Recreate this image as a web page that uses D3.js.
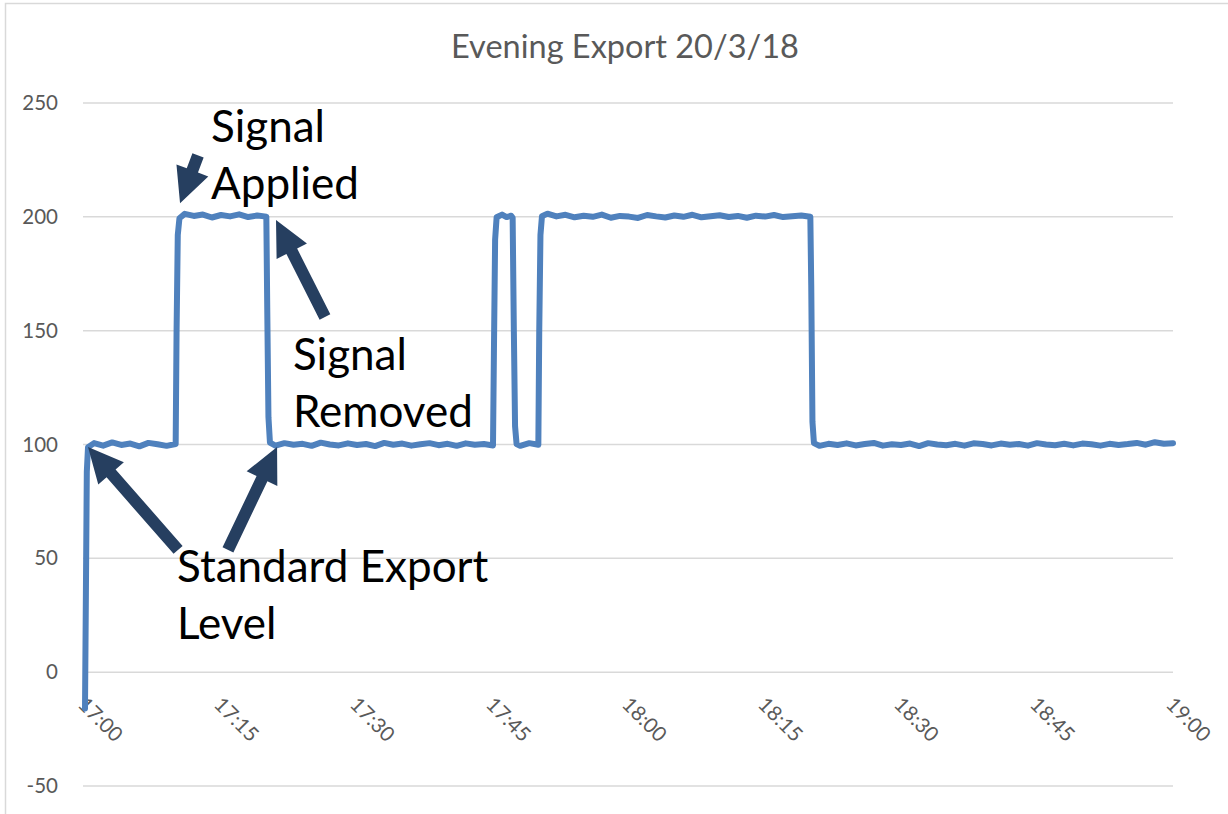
<!DOCTYPE html>
<html>
<head>
<meta charset="utf-8">
<script src="https://cdn.jsdelivr.net/npm/d3@7"></script>
<style>
  body { margin: 0; background: #fff; }
  text { font-family: Lato, "Open Sans", sans-serif; }
</style>
</head>
<body>
<svg id="chart" width="1228" height="814"></svg>
<script>
//// data
var times = [
  "17:00:00","17:00:06","17:00:12","17:00:20","17:01:00","17:02:00","17:03:00","17:04:00","17:05:00",
  "17:06:00","17:07:00","17:08:00","17:09:00",
  "17:10:00","17:10:06","17:10:14","17:10:25","17:11:00","17:12:00","17:13:00","17:14:00","17:15:00",
  "17:16:00","17:17:00","17:18:00","17:19:00",
  "17:20:00","17:20:06","17:20:14","17:20:24","17:21:00","17:22:00","17:23:00","17:24:00","17:25:00",
  "17:26:00","17:27:00","17:28:00","17:29:00","17:30:00","17:31:00","17:32:00","17:33:00","17:34:00",
  "17:35:00","17:36:00","17:37:00","17:38:00","17:39:00","17:40:00","17:41:00","17:42:00","17:43:00",
  "17:44:00",
  "17:45:00","17:45:06","17:45:14","17:45:24","17:46:00","17:46:30","17:47:00",
  "17:47:10","17:47:18","17:47:26","17:47:36","17:48:00","17:49:00",
  "17:50:00","17:50:06","17:50:14","17:50:24","17:51:00","17:52:00","17:53:00","17:54:00","17:55:00",
  "17:56:00","17:57:00","17:58:00","17:59:00","18:00:00","18:01:00","18:02:00","18:03:00","18:04:00",
  "18:05:00","18:06:00","18:07:00","18:08:00","18:09:00","18:10:00","18:11:00","18:12:00","18:13:00",
  "18:14:00","18:15:00","18:16:00","18:17:00","18:18:00","18:19:00",
  "18:20:00","18:20:06","18:20:14","18:20:24","18:21:00","18:22:00","18:23:00","18:24:00","18:25:00",
  "18:26:00","18:27:00","18:28:00","18:29:00","18:30:00","18:31:00","18:32:00","18:33:00","18:34:00",
  "18:35:00","18:36:00","18:37:00","18:38:00","18:39:00","18:40:00","18:41:00","18:42:00","18:43:00",
  "18:44:00","18:45:00","18:46:00","18:47:00","18:48:00","18:49:00","18:50:00","18:51:00","18:52:00",
  "18:53:00","18:54:00","18:55:00","18:56:00","18:57:00","18:58:00","18:59:00","19:00:00"
];
var exportLevel = [
  -16, 35, 88, 98.8, 100.6, 99.5, 100.9, 99.8, 100.4,
  99.2, 100.7, 100.1, 99.4,
  100.2, 150, 192, 199.4, 201.3, 200.4, 201.0, 199.7, 200.8,
  200.2, 201.1, 199.9, 200.6,
  200.1, 160, 112, 100.8, 99.5, 100.6, 99.9, 100.3, 99.4,
  100.8, 100.0, 99.6, 100.5, 99.8, 100.2, 99.3, 100.7, 99.9,
  100.4, 99.5, 100.1, 100.6, 99.7, 100.3, 99.4, 100.5, 99.9,
  100.2,
  99.6, 140, 190, 199.8, 201.0, 199.9, 200.5,
  199.6, 150, 108, 100.2, 99.4, 100.6,
  99.9, 150, 192, 200.3, 201.4, 200.2, 200.9, 199.8, 200.5,
  200.0, 201.0, 199.6, 200.4, 200.1, 199.5, 200.8, 200.2, 199.7,
  200.6, 200.0, 200.9, 199.8, 200.3, 200.7, 199.9, 200.4, 199.6,
  200.5, 200.1, 200.8, 199.9, 200.3, 200.6,
  200.0, 170, 110, 100.6, 99.4, 100.3, 99.8, 100.5, 99.6,
  100.2, 100.7, 99.5, 100.1, 99.8, 100.4, 99.3, 100.6, 100.0,
  99.7, 100.3, 99.5, 100.5, 100.2, 99.6, 100.4, 99.9, 100.2,
  99.5, 100.6, 100.0, 99.7, 100.3, 99.6, 100.4, 100.1, 99.5,
  100.3, 99.8, 100.2, 100.7, 99.9, 101.0, 100.3, 100.6
];
var xTickLabels = ["17:00","17:15","17:30","17:45","18:00","18:15","18:30","18:45","19:00"];
var yTicks = [-50, 0, 50, 100, 150, 200, 250];

// callouts: arrows go tail -> tip, in chart units [time, value]
var arrows = [
  {tail: ["17:12:28", 227], tip: ["17:10:29", 206]},
  {tail: ["17:26:28", 156], tip: ["17:21:04", 198.6]},
  {tail: ["17:10:16", 53.7], tip: ["17:00:20", 98.9]},
  {tail: ["17:15:46", 53.7], tip: ["17:21:11", 98.9]}
];
var notes = [
  {at: ["17:13:54", 232.9], lines: ["Signal", "Applied"]},
  {at: ["17:22:56", 132.7], lines: ["Signal", "Removed"]},
  {at: ["17:10:09", 39.6], lines: ["Standard Export", "Level"]}
];

//// setup
var svg = d3.select("svg#chart"),
    width = +svg.attr("width"),
    height = +svg.attr("height");

var parse = d3.timeParse("%H:%M:%S"),
    parseHM = d3.timeParse("%H:%M");

var data = times.map(function(t, i) { return {time: parse(t), value: exportLevel[i]}; });

var x = d3.scaleTime()
    .domain([parseHM(xTickLabels[0]), parseHM(xTickLabels[xTickLabels.length - 1])])
    .range([85, 1173]);
var y = d3.scaleLinear()
    .domain([-50, 250])
    .range([786, 103]);

// outer chart border
svg.append("rect")
    .attr("x", 5.5).attr("y", 3.5)
    .attr("width", width + 20).attr("height", height + 20)
    .attr("fill", "none")
    .attr("stroke", "#d9d9d9")
    .attr("stroke-width", 1.5);

// title
svg.append("text")
    .attr("x", 625).attr("y", 58)
    .attr("text-anchor", "middle")
    .attr("font-size", 32.5)
    .attr("fill", "#595959")
    .text("Evening Export 20/3/18");

// gridlines
svg.append("g").selectAll("line")
    .data(yTicks)
    .enter().append("line")
    .attr("x1", 83).attr("x2", 1173)
    .attr("y1", function(d) { return y(d); })
    .attr("y2", function(d) { return y(d); })
    .attr("stroke", "#d9d9d9")
    .attr("stroke-width", 1.5);

// y axis (plain hyphen for negatives, as in the source)
var yAxis = svg.append("g")
    .attr("transform", "translate(68,0)")
    .call(d3.axisLeft(y).tickValues(yTicks).tickSize(0).tickPadding(10)
        .tickFormat(function(d) { return String(d); }));
yAxis.select(".domain").remove();
yAxis.selectAll("text")
    .attr("font-size", 20.5)
    .attr("font-family", "Lato, sans-serif")
    .attr("fill", "#595959");

// x axis, labels slanted down to the right
var xAxis = svg.append("g")
    .attr("transform", "translate(0," + y(0) + ")")
    .call(d3.axisBottom(x)
        .tickValues(xTickLabels.map(parseHM))
        .tickFormat(d3.timeFormat("%H:%M"))
        .tickSize(0));
xAxis.select(".domain").remove();
xAxis.selectAll("text")
    .attr("x", 0).attr("y", 0).attr("dy", null)
    .attr("text-anchor", "start")
    .attr("dominant-baseline", "central")
    .attr("transform", "translate(-3,28) rotate(45)")
    .attr("font-size", 20.5)
    .attr("font-family", "Lato, sans-serif")
    .attr("fill", "#595959");

// series
var line = d3.line()
    .x(function(d) { return x(d.time); })
    .y(function(d) { return y(d.value); });

svg.append("path")
    .datum(data)
    .attr("d", line)
    .attr("fill", "none")
    .attr("stroke", "#4f81bd")
    .attr("stroke-width", 6)
    .attr("stroke-linejoin", "round")
    .attr("stroke-linecap", "round");

// block arrows
function arrowPoints(a) {
  var x0 = x(parse(a.tail[0])), y0 = y(a.tail[1]),
      x1 = x(parse(a.tip[0])), y1 = y(a.tip[1]);
  var dx = x1 - x0, dy = y1 - y0, len = Math.sqrt(dx * dx + dy * dy);
  var ux = dx / len, uy = dy / len, nx = -uy, ny = ux;
  var shaft = 6, head = 17, headLen = 35;
  var bx = x1 - ux * headLen, by = y1 - uy * headLen;
  var pts = [
    [x0 + nx * shaft, y0 + ny * shaft],
    [bx + nx * shaft, by + ny * shaft],
    [bx + nx * head, by + ny * head],
    [x1, y1],
    [bx - nx * head, by - ny * head],
    [bx - nx * shaft, by - ny * shaft],
    [x0 - nx * shaft, y0 - ny * shaft]
  ];
  return pts.map(function(p) { return p.join(","); }).join(" ");
}

svg.append("g").selectAll("polygon")
    .data(arrows)
    .enter().append("polygon")
    .attr("points", arrowPoints)
    .attr("fill", "#263f60");

// callout text
var note = svg.append("g").selectAll("text")
    .data(notes)
    .enter().append("text")
    .attr("x", function(d) { return x(parse(d.at[0])); })
    .attr("y", function(d) { return y(d.at[1]); })
    .attr("font-size", 44)
    .attr("fill", "#000");

note.selectAll("tspan")
    .data(function(d) { return d.lines.map(function(l) { return {line: l, x: x(parse(d.at[0]))}; }); })
    .enter().append("tspan")
    .attr("x", function(d) { return d.x; })
    .attr("dy", function(d, i) { return i === 0 ? 0 : 57; })
    .text(function(d) { return d.line; });
</script>
</body>
</html>
